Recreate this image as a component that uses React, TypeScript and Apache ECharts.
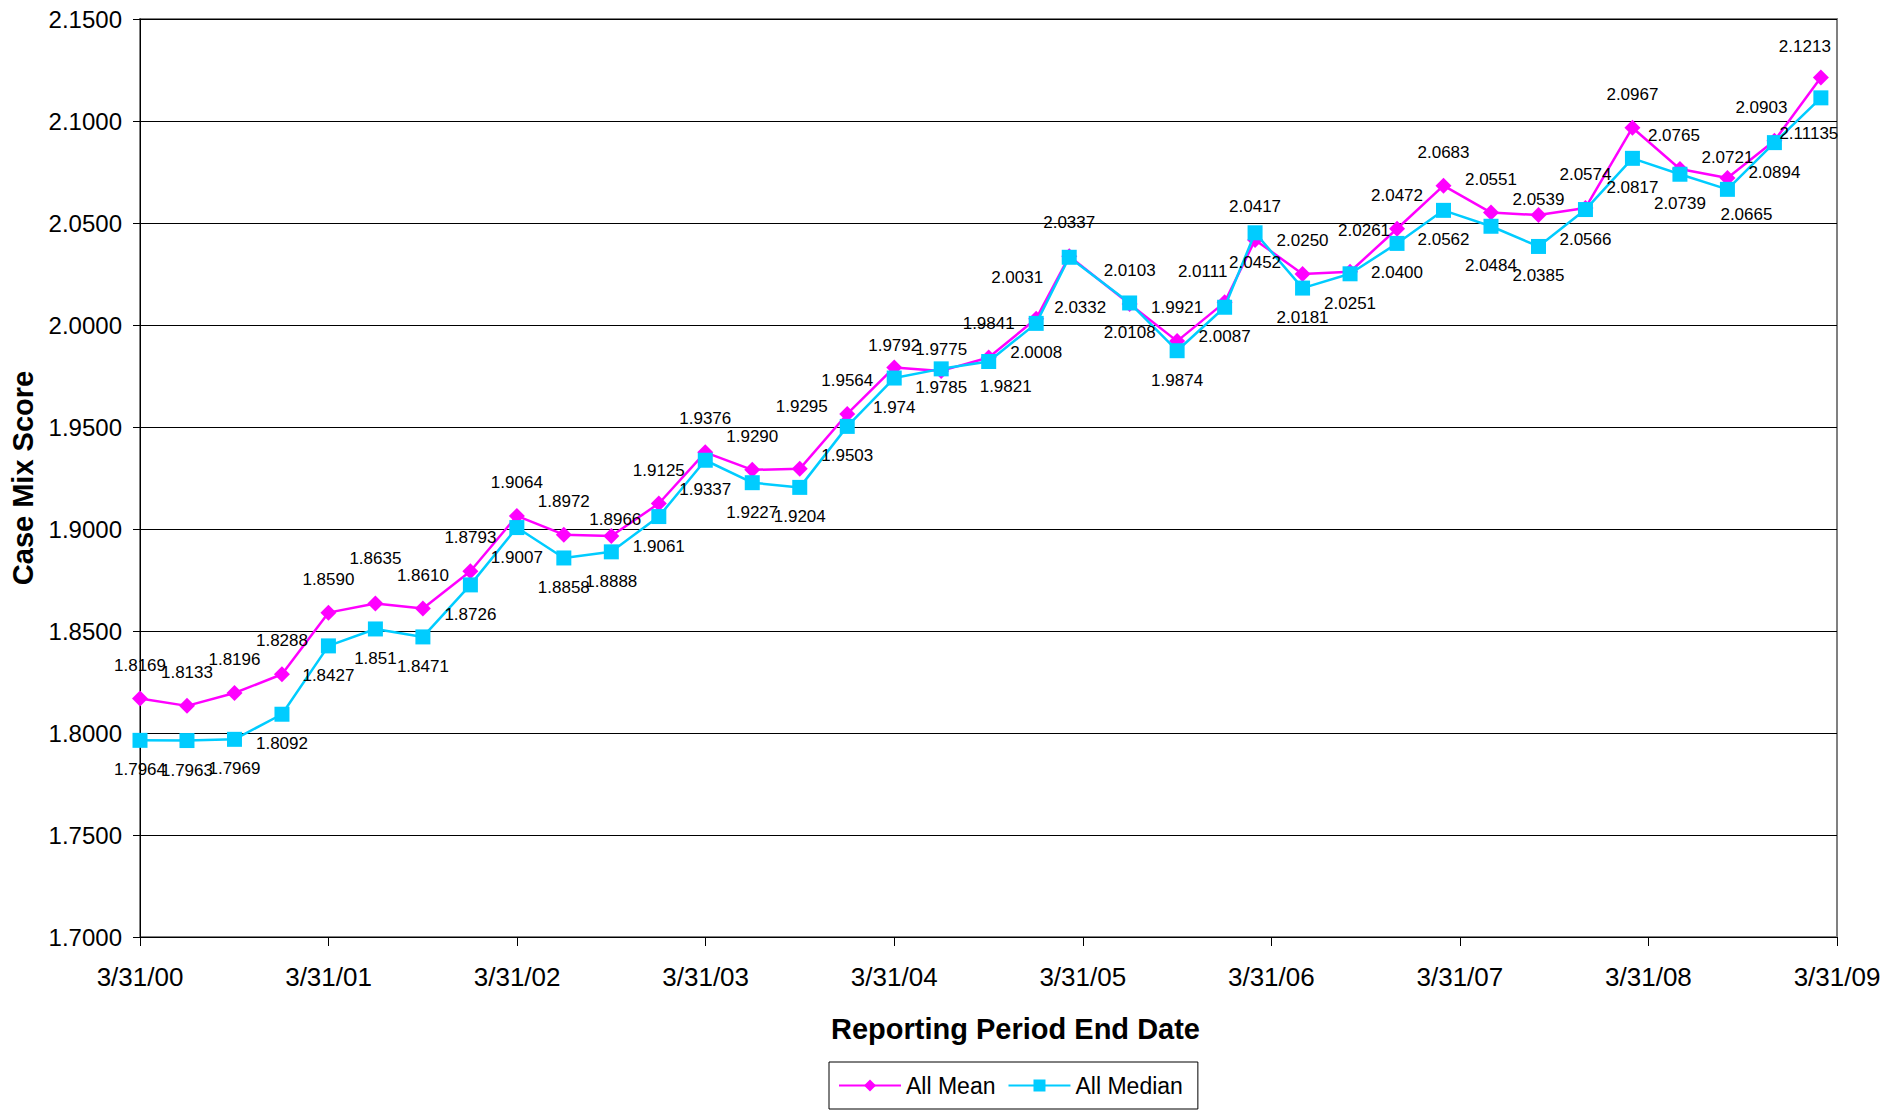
import React, { useEffect, useRef } from "react";
import * as echarts from "echarts";

const START = "2000-03-31";

const periodEndDates = [
  "2000-03-31", "2000-06-30", "2000-09-30", "2000-12-31",
  "2001-03-31", "2001-06-30", "2001-09-30", "2001-12-31",
  "2002-03-31", "2002-06-30", "2002-09-30", "2002-12-31",
  "2003-03-31", "2003-06-30", "2003-09-30", "2003-12-31",
  "2004-03-31", "2004-06-30", "2004-09-30", "2004-12-31",
  "2005-03-05", "2005-06-30", "2005-09-30", "2005-12-31",
  "2006-02-28", "2006-05-31", "2006-08-31", "2006-11-30",
  "2007-02-28", "2007-05-31", "2007-08-31", "2007-11-30",
  "2008-02-29", "2008-05-31", "2008-08-31", "2008-11-30",
  "2009-02-28",
];

const allMean = [
  "1.8169", "1.8133", "1.8196", "1.8288",
  "1.8590", "1.8635", "1.8610", "1.8793",
  "1.9064", "1.8972", "1.8966", "1.9125",
  "1.9376", "1.9290", "1.9295", "1.9564",
  "1.9792", "1.9775", "1.9841", "2.0031",
  "2.0337", "2.0103", "1.9921", "2.0111",
  "2.0417", "2.0250", "2.0261", "2.0472",
  "2.0683", "2.0551", "2.0539", "2.0574",
  "2.0967", "2.0765", "2.0721", "2.0903",
  "2.1213",
];

const allMedian = [
  "1.7964", "1.7963", "1.7969", "1.8092",
  "1.8427", "1.851", "1.8471", "1.8726",
  "1.9007", "1.8858", "1.8888", "1.9061",
  "1.9337", "1.9227", "1.9204", "1.9503",
  "1.974", "1.9785", "1.9821", "2.0008",
  "2.0332", "2.0108", "1.9874", "2.0087",
  "2.0452", "2.0181", "2.0251", "2.0400",
  "2.0562", "2.0484", "2.0385", "2.0566",
  "2.0817", "2.0739", "2.0665", "2.0894",
  "2.11135",
];

const xTickYears = ["00", "01", "02", "03", "04", "05", "06", "07", "08", "09"];
const Y_MIN = 1.7;
const Y_MAX = 2.15;
const Y_STEP = 0.05;

// Hand-placed data label nudges (pixels) where the original labels were moved.
const meanLabelNudges: Record<number, [number, number]> = {
  5: [0, -11],
  10: [4, 17],
  14: [2, -29],
  16: [0, 12],
  17: [0, 12],
  19: [-19, -8],
  23: [-22, 3],
  26: [14, -8],
  30: [0, 18],
  33: [-6, 0],
  34: [0, 13],
  35: [-13, 0],
  36: [-16, 2],
};
const medianLabelNudges: Record<number, [number, number]> = {
  17: [0, -11],
  18: [17, -5],
  20: [11, 21],
  29: [0, 10],
  34: [19, -4],
  36: [-12, 6],
};

const FONT = "'Liberation Sans', Arial, Helvetica, sans-serif";
const MEAN_COLOR = "#FF00FF";
const MEDIAN_COLOR = "#00CCFF";

const DAY = 86400000;
function yearsSinceStart(d: string): number {
  return (Date.parse(d) - Date.parse(START)) / (365.25 * DAY);
}

function buildSeriesData(values: string[], nudges: Record<number, [number, number]>) {
  return values.map((v, i) => ({
    value: [yearsSinceStart(periodEndDates[i]), Number(v)],
    label: { formatter: v, offset: nudges[i] || [0, 0] },
  }));
}

export default function App() {
  const ref = useRef<HTMLDivElement>(null);

  useEffect(() => {
    if (!ref.current) return;
    const chart = echarts.init(ref.current, null, { renderer: "svg" });
    chart.setOption({
      animation: false,
      backgroundColor: "#ffffff",
      textStyle: { fontFamily: FONT },
      grid: {
        left: 140,
        right: 49,
        top: 19,
        bottom: 175,
        show: true,
        borderColor: "#808080",
        borderWidth: 2,
      },
      legend: {
        left: 829,
        top: 1062,
        orient: "horizontal",
        itemWidth: 62,
        itemHeight: 15,
        itemGap: 12,
        padding: [12, 15, 12, 9],
        borderColor: "#000",
        borderWidth: 1,
        textStyle: { fontSize: 23, color: "#000", fontFamily: FONT },
        data: ["All Mean", "All Median"],
      },
      xAxis: {
        type: "value",
        min: 0,
        max: xTickYears.length - 1,
        interval: 1,
        name: "Reporting Period End Date",
        nameLocation: "middle",
        nameGap: 77,
        nameTextStyle: {
          fontSize: 29,
          fontWeight: "bold",
          color: "#000",
          fontFamily: FONT,
          padding: [0, 0, 0, 54],
        },
        axisLine: { lineStyle: { color: "#000", width: 1 } },
        axisTick: { show: true, length: 9, inside: false, lineStyle: { color: "#000" } },
        axisLabel: {
          fontSize: 26,
          color: "#000",
          margin: 27,
          fontFamily: FONT,
          formatter: (v: number) => `3/31/${xTickYears[Math.round(v)]}`,
        },
        splitLine: { show: false },
      },
      yAxis: {
        type: "value",
        min: Y_MIN,
        max: Y_MAX,
        interval: Y_STEP,
        name: "Case Mix Score",
        nameLocation: "middle",
        nameGap: 103,
        nameRotate: 90,
        nameTextStyle: { fontSize: 29, fontWeight: "bold", color: "#000", fontFamily: FONT },
        axisLine: { show: true, lineStyle: { color: "#000", width: 1 } },
        axisTick: { show: true, length: 7, inside: false, lineStyle: { color: "#000" } },
        axisLabel: {
          fontSize: 24,
          color: "#000",
          margin: 18,
          fontFamily: FONT,
          formatter: (v: number) => v.toFixed(4),
        },
        splitLine: { show: true, lineStyle: { color: "#000", width: 1 } },
      },
      series: [
        {
          name: "All Mean",
          type: "line",
          data: buildSeriesData(allMean, meanLabelNudges),
          symbol: "diamond",
          symbolSize: 16,
          itemStyle: { color: MEAN_COLOR },
          lineStyle: { color: MEAN_COLOR, width: 2.5 },
          label: {
            show: true,
            position: "top",
            distance: 17,
            fontSize: 17,
            color: "#000",
            fontFamily: FONT,
          },
          z: 2,
        },
        {
          name: "All Median",
          type: "line",
          data: buildSeriesData(allMedian, medianLabelNudges),
          symbol: "rect",
          symbolSize: 15,
          itemStyle: { color: MEDIAN_COLOR },
          lineStyle: { color: MEDIAN_COLOR, width: 2.5 },
          label: {
            show: true,
            position: "bottom",
            distance: 13.5,
            fontSize: 17,
            color: "#000",
            fontFamily: FONT,
          },
          z: 3,
        },
      ],
    });
    return () => chart.dispose();
  }, []);

  return (
    <div
      ref={ref}
      style={{ position: "absolute", left: 0, top: 0, width: 1886, height: 1112, background: "#fff" }}
    />
  );
}
